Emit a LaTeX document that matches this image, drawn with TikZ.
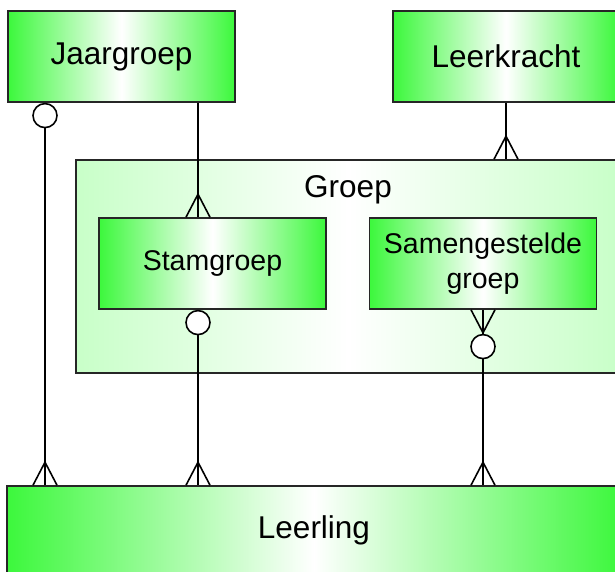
\documentclass[tikz,border=0pt]{standalone}
\usepackage{fontspec}
\setmainfont{Liberation Sans}
\usetikzlibrary{positioning}
\definecolor{fel}{RGB}{60,248,60}
\definecolor{bleek}{RGB}{200,255,200}
% kraaienpoot: punt op de rand, richting (1 = omhoog, -1 = omlaag)
\newcommand{\kraai}[2]{\draw[lijn] ([yshift=#2*23pt]#1) -- ([xshift=-12pt]#1) ([yshift=#2*23pt]#1) -- ([xshift=12pt]#1);}

\begin{document}
\begin{tikzpicture}[x=1pt,y=-1pt,
  box/.style={draw=black!85,line width=1.6pt,left color=fel,right color=fel,middle color=white,inner sep=0pt,minimum width=227pt,minimum height=91pt},
  groot/.style={font=\fontsize{31.5}{37}\selectfont},
  klein/.style={font=\fontsize{28.5}{35}\selectfont,align=center},
  cirkel/.style={circle,draw,line width=1.6pt,fill=white,inner sep=0pt,minimum size=24pt},
  lijn/.style={line width=1.6pt}]
\useasboundingbox (0,0) rectangle (615,572);
\clip (0,0) rectangle (615,572);
\node[draw=black!85,line width=1.6pt,left color=bleek,right color=bleek,middle color=white,minimum width=544pt,minimum height=213pt](groep)at(348,266.5){};
\node[groot](groeplabel)at(348,190){Groep};
\node[box,groot](jaar)at(121.5,56.5){Jaargroep};
\node[box,groot,minimum width=226pt](leer)at(506,56.5){Leerkracht};
\node[box,groot,minimum width=614pt,minimum height=88pt](leerling)at(314,530){Leerling};
\coordinate(k0)at(45,0);
\coordinate(k1)at(198,0);
\draw[lijn](jaar.south -| k0)--(leerling.north -| k0);
\draw[lijn](jaar.south -| k1)--(leerling.north -| k1);
\draw[lijn](leer.south)--(groep.north -| leer);
\node[box,klein](stam)at(212.5,263.5){Stamgroep};
\node[box,klein](samen)at(483,263.5){Samengestelde\\groep};
\draw[lijn](samen.south)--(leerling.north -| samen);
\node[cirkel,anchor=north](c0)at(jaar.south -| k0){};
\node[cirkel,anchor=north](c1)at(stam.south -| k1){};
\node[cirkel,anchor=north,yshift=-24pt](c2)at(samen.south){};
\coordinate(v0)at(leerling.north -| k0);
\coordinate(v1)at(leerling.north -| k1);
\coordinate(v2)at(leerling.north -| samen);
\coordinate(v3)at(stam.north -| k1);
\coordinate(v4)at(groep.north -| leer);
\kraai{v0}{1}
\kraai{v1}{1}
\kraai{v2}{1}
\kraai{v3}{1}
\kraai{v4}{1}
\kraai{samen.south}{-1}
\end{tikzpicture}
\end{document}
